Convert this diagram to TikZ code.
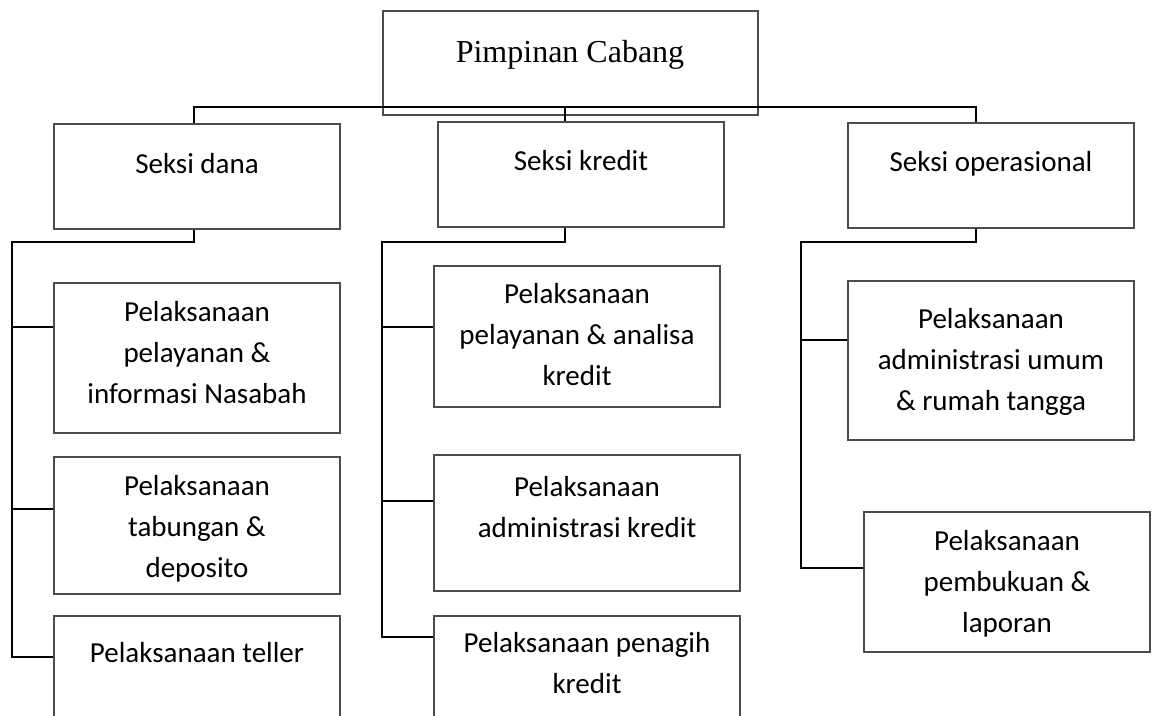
\documentclass[tikz,border=0pt]{standalone}
\usepackage{fontspec}
\setmainfont{Liberation Serif}
\newfontfamily\calfont{Carlito}
\newlength\pxu
\setlength\pxu{0.75pt}
\begin{document}
\begin{tikzpicture}[x=0.75pt,y=-0.75pt,
  box/.style={draw=black!70, line width=0.85pt, inner sep=0pt, rectangle},
  conn/.style={draw=black, line width=1.3pt},
  lbl/.style={font=\calfont\fontsize{21.75}{30.75}\selectfont, align=center, anchor=base, inner sep=0pt},
  ttl/.style={font=\fontsize{24}{28}\selectfont, anchor=base, inner sep=0pt}]
\clip (0,0) rectangle (1157,715);
\fill[white] (0,0) rectangle (1157,715);
% boxes
\node[box, minimum width=375\pxu, minimum height=104\pxu] (pc) at (570.5,63) {};
\node[box, minimum width=286\pxu, minimum height=105\pxu] (dana) at (197,176.5) {};
\node[box, minimum width=286\pxu, minimum height=105\pxu] (kredit) at (581,174.5) {};
\node[box, minimum width=286\pxu, minimum height=105\pxu] (ops) at (991,175.5) {};
\node[box, minimum width=286\pxu, minimum height=150\pxu] (l1) at (197,358) {};
\node[box, minimum width=286\pxu, minimum height=137\pxu] (l2) at (197,525.5) {};
\node[box, minimum width=286\pxu, minimum height=144\pxu] (l3) at (197,688) {};
\node[box, minimum width=286\pxu, minimum height=141\pxu] (m1) at (577,336.5) {};
\node[box, minimum width=306\pxu, minimum height=136\pxu] (m2) at (587,523) {};
\node[box, minimum width=306\pxu, minimum height=144\pxu] (m3) at (587,688) {};
\node[box, minimum width=286\pxu, minimum height=159\pxu] (r1) at (991,360.5) {};
\node[box, minimum width=286\pxu, minimum height=140\pxu] (r2) at (1007,582) {};
% texts (anchor = baseline of last line)
\node[ttl] (tpc) at (570,62) {Pimpinan Cabang};
\node[lbl] (tdana) at (197,173) {Seksi dana};
\node[lbl] (tkredit) at (581,170) {Seksi kredit};
\node[lbl] (tops) at (991,171) {Seksi operasional};
\node[lbl] (tl1) at (197,403) {Pelaksanaan\\pelayanan \&\\informasi Nasabah};
\node[lbl] (tl2) at (197,577) {Pelaksanaan\\tabungan \&\\deposito};
\node[lbl] (tl3) at (197,662) {Pelaksanaan teller};
\node[lbl] (tm1) at (577,385) {Pelaksanaan\\pelayanan \& analisa\\kredit};
\node[lbl] (tm2) at (587,537) {Pelaksanaan\\administrasi kredit};
\node[lbl] (tm3) at (587,693) {Pelaksanaan penagih\\kredit};
\node[lbl] (tr1) at (991,410) {Pelaksanaan\\administrasi umum\\\& rumah tangga};
\node[lbl] (tr2) at (1007,632) {Pelaksanaan\\pembukuan \&\\laporan};
% connectors
\coordinate (tL) at (194,107);
\coordinate (tM) at (565,107);
\coordinate (tR) at (976,107);
\draw[conn] (dana.north -| tL) -- (tL) -- (tR) -- (ops.north -| tR);
\draw[conn] (tM) -- (kredit.north -| tM);
% left column
\coordinate (aL) at (194,242);
\coordinate (sL) at (12,242);
\draw[conn] (dana.south -| aL) -- (aL) -- (sL) |- (l3.west |- 0,657);
\draw[conn] (sL |- 0,327) -- (l1.west |- 0,327);
\draw[conn] (sL |- 0,509) -- (l2.west |- 0,509);
% middle column
\coordinate (aM) at (565,242);
\coordinate (sM) at (382,242);
\draw[conn] (kredit.south -| aM) -- (aM) -- (sM) |- (m3.west |- 0,637);
\draw[conn] (sM |- 0,327) -- (m1.west |- 0,327);
\draw[conn] (sM |- 0,501) -- (m2.west |- 0,501);
% right column
\coordinate (aR) at (976,242);
\coordinate (sR) at (801,242);
\draw[conn] (ops.south -| aR) -- (aR) -- (sR) |- (r2.west |- 0,568);
\draw[conn] (sR |- 0,340) -- (r1.west |- 0,340);
\end{tikzpicture}
\end{document}
